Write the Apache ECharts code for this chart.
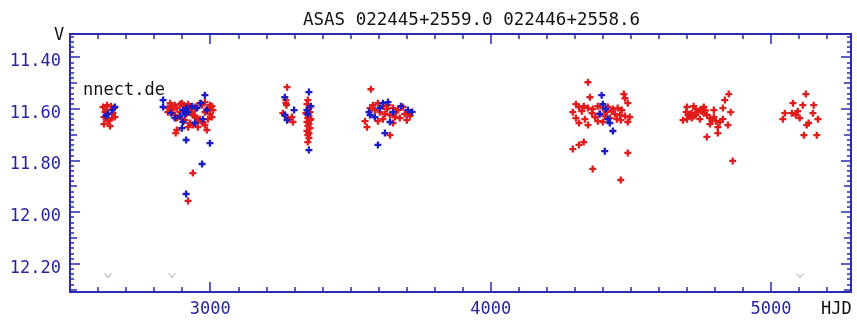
<!DOCTYPE html>
<html>
<head>
<meta charset="utf-8">
<script src="https://cdn.jsdelivr.net/npm/echarts@6/dist/echarts.min.js"></script>
<style>
  html, body { margin: 0; background: #fff; }
  #chart { width: 857px; height: 321px; }
</style>
</head>
<body>
<div id="chart"></div>
<script>
// [HJD, V mag]
const redPoints = [
  [2618,11.593],[2632,11.586],[2646,11.590],[2657,11.597],[2625,11.613],[2653,11.617],[2621,11.632],
  [2650,11.636],[2635,11.648],[2660,11.632],[2621,11.659],[2643,11.667],[2628,11.603],[2639,11.644],
  [2857,11.578],[2864,11.590],[2874,11.586],[2881,11.597],[2892,11.582],[2899,11.578],[2903,11.586],
  [2910,11.590],[2914,11.597],[2921,11.605],[2928,11.613],[2935,11.617],[2938,11.624],[2946,11.632],
  [2953,11.636],[2956,11.644],[2963,11.640],[2971,11.651],[2974,11.655],[2981,11.613],[2988,11.605],
  [2992,11.597],[2999,11.586],[3006,11.590],[3010,11.605],[2963,11.578],[2971,11.586],[2981,11.574],
  [2946,11.593],[2921,11.582],[2903,11.605],[2892,11.613],[2874,11.624],[2881,11.636],[2899,11.640],
  [2910,11.644],[2928,11.655],[2938,11.663],[2956,11.671],[2981,11.663],[2992,11.640],[3006,11.632],
  [2999,11.620],[2849,11.597],[2849,11.613],[2864,11.605],[2881,11.682],[2921,11.671],[2946,11.601],
  [2935,11.597],[2914,11.620],[2988,11.682],[2877,11.694],[2938,11.849],[2921,11.957],
  [3274,11.516],[3270,11.566],[3270,11.578],[3272,11.586],[3259,11.617],[3291,11.632],[3295,11.651],
  [3266,11.624],[3278,11.640],
  [3348,11.566],[3345,11.582],[3352,11.597],[3348,11.605],[3356,11.613],[3345,11.620],[3352,11.628],
  [3348,11.636],[3356,11.644],[3345,11.651],[3352,11.659],[3348,11.667],[3356,11.675],[3345,11.686],
  [3352,11.694],[3348,11.702],[3352,11.713],[3348,11.729],[3359,11.640],[3341,11.617],
  [3573,11.524],[3559,11.671],[3641,11.702],[3701,11.644],[3552,11.648],[3580,11.586],[3598,11.578],
  [3616,11.590],[3634,11.586],[3652,11.597],[3669,11.605],[3687,11.593],[3605,11.613],[3623,11.620],
  [3641,11.624],[3659,11.632],[3587,11.605],[3570,11.597],[3694,11.620],[3616,11.640],[3676,11.636],
  [3652,11.655],[3598,11.648],[3630,11.601],[3662,11.613],[3712,11.628],[3705,11.613],
  [4347,11.497],[4475,11.543],[4354,11.555],[4489,11.578],[4479,11.559],[4304,11.582],[4315,11.593],
  [4332,11.590],[4347,11.597],[4364,11.601],[4382,11.590],[4400,11.597],[4418,11.593],[4436,11.601],
  [4453,11.597],[4468,11.605],[4293,11.613],[4325,11.609],[4361,11.617],[4389,11.620],[4414,11.613],
  [4443,11.620],[4461,11.624],[4479,11.628],[4496,11.632],[4304,11.636],[4336,11.640],[4372,11.632],
  [4425,11.636],[4464,11.644],[4315,11.655],[4347,11.663],[4400,11.651],[4489,11.651],[4293,11.756],
  [4315,11.740],[4332,11.729],[4489,11.771],[4364,11.833],[4464,11.876],[4382,11.648],[4407,11.628],
  [4432,11.609],[4450,11.640],
  [4849,11.543],[4835,11.566],[4856,11.613],[4771,11.709],[4810,11.694],[4863,11.802],[4686,11.644],
  [4697,11.613],[4704,11.624],[4710,11.620],[4717,11.617],[4724,11.628],[4731,11.624],[4738,11.613],
  [4746,11.605],[4753,11.609],[4760,11.617],[4771,11.624],[4782,11.636],[4789,11.644],[4796,11.632],
  [4803,11.648],[4817,11.651],[4828,11.640],[4846,11.663],[4700,11.593],[4724,11.590],[4760,11.593],
  [4796,11.605],[4828,11.597],[4717,11.636],[4746,11.640],[4782,11.659],[4810,11.671],[4731,11.601],
  [4766,11.606],[4700,11.640],
  [5124,11.543],[5078,11.578],[5113,11.586],[5152,11.586],[5049,11.617],[5042,11.640],[5074,11.617],
  [5088,11.624],[5102,11.636],[5134,11.655],[5149,11.617],[5167,11.640],[5117,11.702],[5163,11.702],
  [5127,11.663],[5095,11.609]
];
const bluePoints = [
  [2650,11.605],[2635,11.620],[2628,11.628],[2660,11.593],
  [2981,11.547],[2832,11.566],[2832,11.593],[2903,11.605],[2914,11.597],[2921,11.613],[2910,11.620],
  [2892,11.628],[2935,11.590],[2953,11.597],[2988,11.605],[2974,11.640],[2874,11.636],[2899,11.675],
  [2967,11.578],[2946,11.655],[2860,11.617],[2914,11.721],[2999,11.733],[2971,11.814],[2914,11.930],
  [2903,11.651],
  [3266,11.555],[3299,11.605],[3266,11.624],[3274,11.644],
  [3352,11.535],[3345,11.605],[3348,11.620],[3352,11.760],[3359,11.590],
  [3598,11.740],[3623,11.694],[3705,11.605],[3570,11.624],[3616,11.578],[3634,11.574],[3652,11.613],
  [3587,11.632],[3605,11.597],[3680,11.590],[3641,11.651],[3566,11.613],[3720,11.612],
  [4396,11.547],[4400,11.582],[4389,11.620],[4418,11.640],[4425,11.655],[4436,11.686],[4407,11.764],
  [4410,11.600]
];
const limitPoints = [[2635,12.247],[2864,12.247],[5103,12.247]];

const xLabels = [3000, 4000, 5000];
const yLabels = [11.40, 11.60, 11.80, 12.00, 12.20];

const titleText = 'ASAS 022445+2559.0 022446+2558.6';
const xMin = 2500, xMax = 5285;
const yMin = 11.31, yMax = 12.31;

const AXIS_BLUE = '#2a2ab4';
const LABEL_BLUE = '#26269e';
const FONT = 'DejaVu Sans Mono';
const PLUS = 'path://M2,0H4V2H6V4H4V6H2V4H0V2H2Z';
const VEE = 'path://M0,0L4,5L8,0L7,0L4,3.6L1,0Z';

function steps(from, to, step) {
  const out = [];
  for (let v = from; v <= to + 1e-9; v += step) out.push(+v.toFixed(3));
  return out;
}
const xMinor = steps(2600, 5200, 100);
const yMinor = steps(11.32, 12.30, 0.02);
const yMid = [11.5, 11.7, 11.9, 12.1, 12.3];

function xAx(position, ticks, len, labels) {
  return {
    type: 'value', position, min: xMin, max: xMax,
    splitLine: { show: false },
    axisLine: { show: true, onZero: false, lineStyle: { color: AXIS_BLUE, width: 2 } },
    axisTick: { show: true, inside: true, length: len, customValues: ticks,
      lineStyle: { color: AXIS_BLUE, width: 1.5 } },
    axisLabel: labels ? {
      show: true, customValues: xLabels, color: LABEL_BLUE,
      fontFamily: FONT, fontSize: 17, margin: 9,
      formatter: v => String(v)
    } : { show: false }
  };
}
function yAx(position, ticks, len, labels) {
  return {
    type: 'value', position, min: yMin, max: yMax, inverse: true,
    splitLine: { show: false },
    axisLine: { show: true, onZero: false, lineStyle: { color: AXIS_BLUE, width: 2 } },
    axisTick: { show: true, inside: true, length: len, customValues: ticks,
      lineStyle: { color: AXIS_BLUE, width: 1.5 } },
    axisLabel: labels ? {
      show: true, customValues: yLabels, color: LABEL_BLUE,
      fontFamily: FONT, fontSize: 17, margin: 9,
      verticalAlign: 'top', lineHeight: 9,
      formatter: v => v.toFixed(2)
    } : { show: false }
  };
}

const chart = echarts.init(document.getElementById('chart'));
chart.setOption({
  animation: false,
  backgroundColor: '#fff',
  title: {
    text: titleText, left: 298, top: 6,
    textStyle: { fontFamily: FONT, fontSize: 17.5, fontWeight: 'normal', color: '#111' }
  },
  grid: { left: 70, right: 6, top: 34, bottom: 29 },
  xAxis: [
    xAx('bottom', xLabels, 10, true),
    xAx('bottom', xMinor, 5, false),
    xAx('top', xLabels, 10, false),
    xAx('top', xMinor, 5, false)
  ],
  yAxis: [
    yAx('left', yLabels, 10, true),
    yAx('left', yMinor, 4, false),
    yAx('left', yMid, 7, false),
    yAx('right', yLabels, 10, false),
    yAx('right', yMinor, 4, false),
    yAx('right', yMid, 7, false)
  ],
  graphic: [
    { type: 'text', left: 54, top: 27,
      style: { text: 'V', font: '17px "DejaVu Sans Mono"', fill: '#111' } },
    { type: 'text', left: 821, top: 301,
      style: { text: 'HJD', font: '17px "DejaVu Sans Mono"', fill: '#111' } },
    { type: 'text', left: 83, top: 82,
      style: { text: 'nnect.de', font: '17px "DejaVu Sans Mono"', fill: '#111' } }
  ],
  series: [
    { type: 'scatter', data: redPoints, symbol: PLUS, symbolSize: 7,
      itemStyle: { color: '#e01c1c', opacity: 1 } },
    { type: 'scatter', data: bluePoints, symbol: PLUS, symbolSize: 7,
      itemStyle: { color: '#1c1cc4', opacity: 1 } },
    { type: 'scatter', data: limitPoints, symbol: VEE, symbolSize: [8, 5],
      itemStyle: { color: '#9a9a9a' } }
  ]
});
</script>
</body>
</html>
